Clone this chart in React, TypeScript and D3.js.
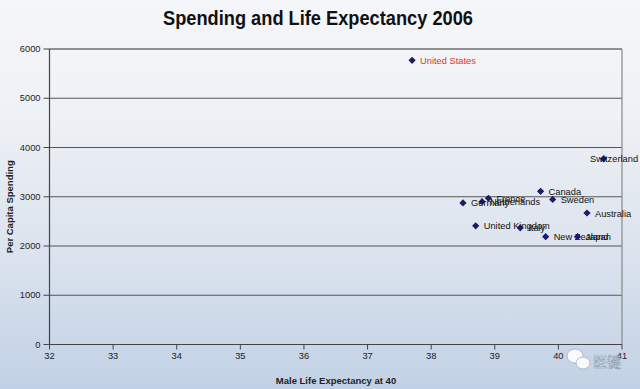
import React from "react";
import * as d3 from "d3";

const countries = ["United States", "Switzerland", "Canada", "Sweden", "France", "Netherlands", "Germany", "Australia", "United Kingdom", "Italy", "New Zealand", "Japan"];
const lifeExpectancy = [37.7, 40.71, 39.72, 39.91, 38.9, 38.8, 38.5, 40.45, 38.7, 39.4, 39.8, 40.3];
const spending = [5770, 3770, 3110, 2945, 2970, 2900, 2875, 2670, 2410, 2370, 2190, 2190];
const xTicks = [32, 33, 34, 35, 36, 37, 38, 39, 40, 41];
const yTicks = [0, 1000, 2000, 3000, 4000, 5000, 6000];

const W = 640, H = 389;
const M = { left: 49.5, right: 622, top: 49, bottom: 344.5 };

export default function App() {
  const x = d3.scaleLinear().domain([32, 41]).range([M.left, M.right]);
  const y = d3.scaleLinear().domain([0, 6000]).range([M.bottom, M.top]);
  const s = 3.6;
  const diamond = `M0,${-s}L${s},0L0,${s}L${-s},0Z`;
  const font = "'Liberation Sans', Arial, sans-serif";
  return (
    <svg width={W} height={H} style={{ position: "fixed", left: 0, top: 0 }} fontFamily={font}>
      <defs>
        <linearGradient id="bg" x1="0" y1="0" x2="0" y2="1">
          <stop offset="0" stopColor="#f5f6f9" />
          <stop offset="0.3" stopColor="#eef1f5" />
          <stop offset="0.65" stopColor="#dbe3ee" />
          <stop offset="1" stopColor="#c1d1e5" />
        </linearGradient>
      </defs>
      <rect width={W} height={H} fill="url(#bg)" />
      <text x={318} y={25} textAnchor="middle" fontSize={19.5} fontWeight="bold" textLength={310} lengthAdjust="spacingAndGlyphs" fill="#111">
        Spending and Life Expectancy 2006
      </text>
      {yTicks.map((t) => (
        <line key={"g" + t} x1={M.left} x2={M.right} y1={y(t)} y2={y(t)} stroke="#555" strokeWidth={1} />
      ))}
      <line x1={M.right} x2={M.right} y1={M.top} y2={M.bottom} stroke="#888" strokeWidth={1.2} />
      <line x1={M.left} x2={M.right} y1={M.top} y2={M.top} stroke="#888" strokeWidth={1.5} />
      <line x1={M.left} x2={M.left} y1={M.top} y2={M.bottom} stroke="#444" strokeWidth={1.2} />
      <line x1={M.left} x2={M.right} y1={M.bottom} y2={M.bottom} stroke="#444" strokeWidth={1.2} />
      {yTicks.map((t) => (
        <g key={"y" + t}>
          <line x1={M.left - 6} x2={M.left} y1={y(t)} y2={y(t)} stroke="#444" />
          <text x={M.left - 9} y={y(t) + 3} textAnchor="end" fontSize={9.3} fill="#222">{t}</text>
        </g>
      ))}
      {xTicks.map((t) => (
        <g key={"x" + t}>
          <line x1={x(t)} x2={x(t)} y1={M.bottom} y2={M.bottom + 5} stroke="#444" />
          <text x={x(t)} y={M.bottom + 14} textAnchor="middle" fontSize={9.3} fill="#222">{t}</text>
        </g>
      ))}
      <text transform={`translate(13,${(M.top + M.bottom) / 2 + 10}) rotate(-90)`} textAnchor="middle" fontSize={9.5} fontWeight="bold" fill="#222">
        Per Capita Spending
      </text>
      <text x={336} y={384} textAnchor="middle" fontSize={9.5} fontWeight="bold" fill="#222">
        Male Life Expectancy at 40
      </text>
      {countries.map((c, i) => {
        const px = x(lifeExpectancy[i]);
        const py = y(spending[i]);
        const lx = c === "Switzerland" ? 590 : px + 8;
        return (
          <g key={c}>
            <path d={diamond} transform={`translate(${px},${py})`} fill="#1c1a6b" />
            <text x={lx} y={py + 3.5} fontSize={9.3} fill={c === "United States" ? "#e03333" : "#111"}>{c}</text>
          </g>
        );
      })}
      <g opacity={0.9}>
        <ellipse cx={575} cy={356} rx={8} ry={7} fill="#fff" stroke="#aab" strokeWidth={0.8} />
        <ellipse cx={583} cy={363} rx={7} ry={6} fill="#fff" stroke="#aab" strokeWidth={0.8} />
        <text x={593} y={367} fontSize={14} fill="#fff" stroke="#8899aa" strokeWidth={0.6} fontFamily="'Noto Sans CJK SC', sans-serif">医键</text>
      </g>
    </svg>
  );
}
